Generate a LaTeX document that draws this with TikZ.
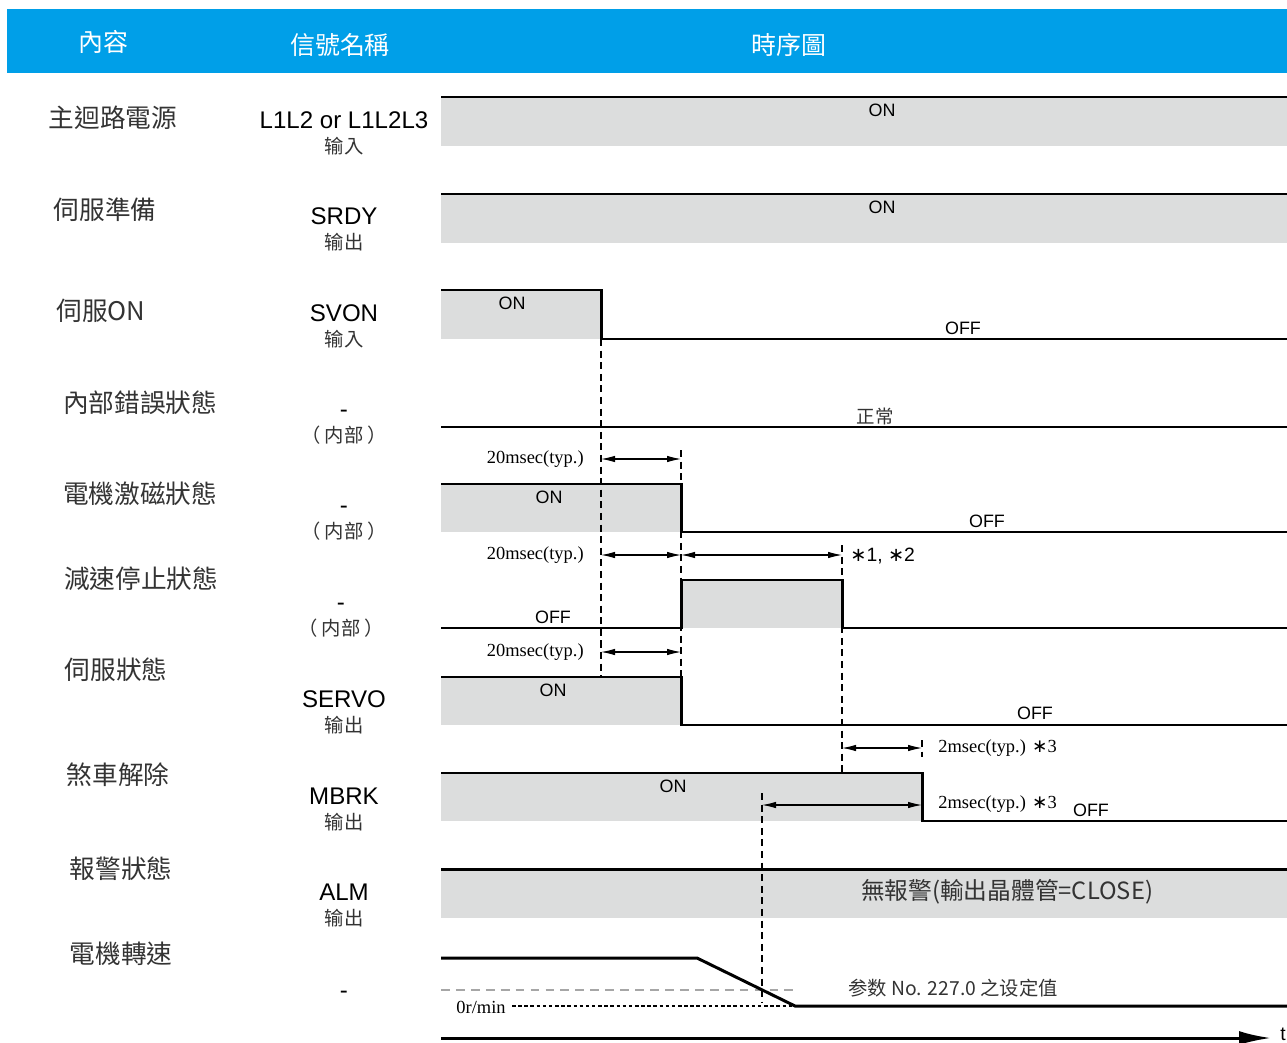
\documentclass[tikz,border=0pt]{standalone}
\usepackage{fontspec}
\setmainfont{Liberation Sans}
\newfontfamily\cjk{Noto Sans CJK TC}
\newfontfamily\tms{Liberation Serif}
\newfontfamily\symf{DejaVu Sans}
\usetikzlibrary{arrows.meta,positioning}
\definecolor{Header}{HTML}{009FE8}
\definecolor{Band}{HTML}{DCDDDD}
\definecolor{Ink}{HTML}{333333}
% switching instants (px from left)
\newcommand\tSvon{601}
\newcommand\tExc{681}
\newcommand\tStop{842}
\newcommand\tBrk{922}
\newcommand\tHold{762}
\newcommand\astr{{\symf ∗}}
\tikzset{
  headtext/.style={font=\cjk\fontsize{14.2}{16}\selectfont, text=white},
  item/.style={font=\cjk\fontsize{14.6}{17}\selectfont, text=Ink},
  sig/.style={font=\fontsize{13.7}{16}\selectfont, inner sep=0pt,
    text height=10pt, text depth=0pt},
  io/.style={font=\cjk\fontsize{11}{13}\selectfont, text=Ink, inner sep=0pt,
    text height=9.5pt, text depth=1.5pt},
  state/.style={font=\fontsize{10.2}{12}\selectfont, inner sep=0pt},
  band/.style={fill=Band},
  wave/.style={line width=1.7pt},
  guide/.style={line width=0.6pt, dash pattern=on 4pt off 2.6pt},
  dim/.style={{Latex[length=2.8mm,width=1.3mm]}-{Latex[length=2.8mm,width=1.3mm]},
    line width=0.6pt},
  dimtext/.style={font=\tms\fontsize{10.5}{12}\selectfont, inner sep=0pt},
  axis/.style={-{Latex[length=6.4mm,width=2.8mm]}, line width=1.7pt}
}
\begin{document}
\begin{tikzpicture}[x=0.02cm, y=-0.02cm]
  \useasboundingbox (0,0) rectangle (1287,1043);
  % header
  \fill[Header] (7,9) rectangle (1287,73);
  \node[headtext] (hitem) at (103,42) {內容};
  \node[headtext] (hsig) at (340,45) {信號名稱};
  \node[headtext] (hchart) at (789,45) {時序圖};
  % left column
  \node[item] (power) at (113,118) {主迴路電源};
  \node[item] (ready) at (105,210) {伺服準備};
  \node[item] (servoon) at (101,311) {伺服ON};
  \node[item] (error) at (140,403) {內部錯誤狀態};
  \node[item] (excite) at (140,494) {電機激磁狀態};
  \node[item] (decel) at (141,579) {減速停止狀態};
  \node[item] (servost) at (116,670) {伺服狀態};
  \node[item] (brake) at (118,775) {煞車解除};
  \node[item] (alarm) at (121,869) {報警狀態};
  \node[item] (speed) at (121,954) {電機轉速};
  % signal column
  \node[sig] (l1l2) at (344,120) {L1L2 or L1L2L3};
  \node[io, below=0.15cm of l1l2] (l1l2io) {输入};
  \node[sig] (srdy) at (344,216) {SRDY};
  \node[io, below=0.15cm of srdy] (srdyio) {输出};
  \node[sig] (svon) at (344,313) {SVON};
  \node[io, below=0.15cm of svon] (svonio) {输入};
  \node[sig] (errsig) at (344,409) {-};
  \node[io, below=0.15cm of errsig] (errio) {（ 内部 ）};
  \node[sig] (excsig) at (344,505) {-};
  \node[io, below=0.15cm of excsig] (excio) {（ 内部 ）};
  \node[sig] (decsig) at (341,602) {-};
  \node[io, below=0.15cm of decsig] (decio) {（ 内部 ）};
  \node[sig] (servo) at (344,699) {SERVO};
  \node[io, below=0.15cm of servo] (servoio) {输出};
  \node[sig] (mbrk) at (344,796) {MBRK};
  \node[io, below=0.15cm of mbrk] (mbrkio) {输出};
  \node[sig] (alm) at (344,892) {ALM};
  \node[io, below=0.15cm of alm] (almio) {输出};
  \node[sig] (spdsig) at (344,990) {-};

  % always-on rows
  \foreach \y in {97,194,869} {
    \fill[band] (441,\y) rectangle (1287,\y+49);
    \draw[wave] (441,\y) -- (1287,\y);
  }
  \node[state] (pwron) at (882,110) {ON};
  \node[state] (rdyon) at (882,207) {ON};
  \node[font=\cjk\fontsize{13.5}{15}\selectfont, text=Ink] (almtext) at (1007,892)
    {無報警(輸出晶體管=CLOSE)};
  % SVON
  \fill[band] (441,290) rectangle (\tSvon,339);
  \draw[wave] (441,290) -| (\tSvon,339) -- (1287,339);
  \node[state] (svonon) at (512,303) {ON};
  \node[state] (svonoff) at (963,328) {OFF};
  % internal error
  \draw[wave] (441,427) -- (1287,427);
  \node[font=\cjk\fontsize{10.5}{12}\selectfont, text=Ink] (normal) at (875,416) {正常};
  % excitation
  \fill[band] (441,484) rectangle (\tExc,532);
  \draw[wave] (441,484) -| (\tExc,532) -- (1287,532);
  \node[state] (excon) at (549,497) {ON};
  \node[state] (excoff) at (987,521) {OFF};
  % deceleration stop
  \fill[band] (\tExc,580) rectangle (\tStop,628);
  \draw[wave] (441,628) -- (\tExc,628) |- (\tStop,580) -- (\tStop,628) -- (1287,628);
  \node[state] (decoff) at (553,617) {OFF};
  % SERVO
  \fill[band] (441,677) rectangle (\tExc,725);
  \draw[wave] (441,677) -| (\tExc,725) -- (1287,725);
  \node[state] (servoon2) at (553,690) {ON};
  \node[state] (servooff) at (1035,713) {OFF};
  % MBRK
  \fill[band] (441,773) rectangle (\tBrk,821);
  \draw[wave] (441,773) -| (\tBrk,821) -- (1287,821);
  \node[state] (mbrkon) at (673,786) {ON};
  \node[state] (mbrkoff) at (1091,810) {OFF};
  % motor speed
  \draw[gray!70, line width=0.8pt, dash pattern=on 5pt off 3.5pt] (441,990) -- (795,990);
  \draw[line width=0.6pt, dash pattern=on 2pt off 1.5pt] (512,1006) -- (795,1006);
  \draw[wave] (441,958) -- (697,958) -- (795,1006) -- (1287,1006);
  \node[dimtext] (zero) at (481,1007) {0r/min};
  \node[font=\cjk\fontsize{11}{13}\selectfont, text=Ink] (param) at (953,988)
    {参数 No. 227.0 之设定值};

  % guides
  \draw[guide] (\tSvon,339) -- (\tSvon,677);
  \draw[guide] (\tExc,450) -- (\tExc,677);
  \draw[guide] (\tStop,545) -- (\tStop,773);
  \draw[guide] (\tBrk,740) -- (\tBrk,757);
  \draw[guide] (\tHold,793) -- (\tHold,1002);
  % delays
  \draw[dim] (\tSvon,459) -- (\tExc,459);
  \draw[dim] (\tSvon,555) -- (\tExc,555);
  \draw[dim] (\tExc,555) -- (\tStop,555);
  \draw[dim] (\tSvon,652) -- (\tExc,652);
  \draw[dim] (\tStop,748) -- (\tBrk,748);
  \draw[dim] (\tHold,805) -- (\tBrk,805);
  \node[dimtext, anchor=east] (d1) at (584,459) {20msec(typ.)};
  \node[dimtext, anchor=east] (d2) at (584,555) {20msec(typ.)};
  \node[dimtext, anchor=east] (d3) at (584,652) {20msec(typ.)};
  \node[state, anchor=west, font=\fontsize{11}{13}\selectfont] (note12) at (850,556) {\astr1, \astr2};
  \node[dimtext, anchor=west] (d4) at (938,748) {2msec(typ.) \astr3};
  \node[dimtext, anchor=west] (d5) at (938,804) {2msec(typ.) \astr3};

  % time axis
  \draw[axis] (441,1038) -- (1271,1038);
  \node[font=\fontsize{11}{13}\selectfont] (t) at (1283,1034) {t};
\end{tikzpicture}
\end{document}
